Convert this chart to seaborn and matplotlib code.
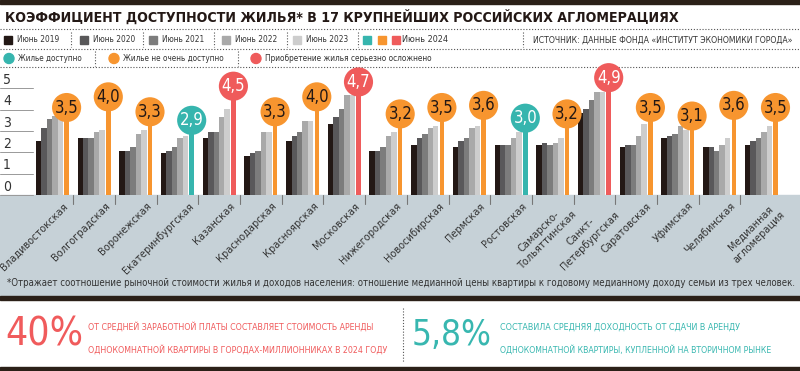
import pandas as pd
import seaborn as sns
import matplotlib.pyplot as plt
from matplotlib.patches import Rectangle, Circle
from matplotlib.transforms import blended_transform_factory

# данные
cities = ["Владивостокская", "Волгоградская", "Воронежская", "Екатеринбургская", "Казанская",
          "Краснодарская", "Красноярская", "Московская", "Нижегородская", "Новосибирская",
          "Пермская", "Ростовская", "Самарско-\nТольяттинская", "Санкт-\nПетербургская",
          "Саратовская", "Уфимская", "Челябинская", "Медианная\nагломерация"]
years = ["Июнь 2019", "Июнь 2020", "Июнь 2021", "Июнь 2022", "Июнь 2023"]
v2019 = [2.55, 2.65, 2.05, 1.95, 2.65, 1.85, 2.55, 3.35, 2.05, 2.35, 2.25, 2.35, 2.35, 3.85, 2.25, 2.65, 2.25, 2.35]
v2020 = [3.15, 2.65, 2.05, 2.05, 2.95, 1.95, 2.75, 3.65, 2.05, 2.65, 2.55, 2.35, 2.45, 4.05, 2.35, 2.75, 2.25, 2.55]
v2021 = [3.55, 2.65, 2.25, 2.25, 2.95, 2.05, 2.95, 4.05, 2.25, 2.85, 2.65, 2.35, 2.35, 4.45, 2.35, 2.85, 2.05, 2.65]
v2022 = [3.70, 2.95, 2.85, 2.65, 3.65, 2.95, 3.45, 4.70, 2.75, 3.15, 3.15, 2.65, 2.45, 4.85, 2.75, 3.25, 2.35, 2.95]
v2023 = [3.60, 3.05, 3.05, 2.75, 4.05, 2.95, 3.45, 4.70, 2.95, 3.25, 3.25, 2.95, 2.65, 4.85, 3.35, 3.05, 2.65, 3.25]
v2024 = [3.5, 4.0, 3.3, 2.9, 4.5, 3.3, 4.0, 4.7, 3.2, 3.5, 3.6, 3.0, 3.2, 4.9, 3.5, 3.1, 3.6, 3.5]
status = ["mid", "mid", "mid", "ok", "hard", "mid", "mid", "hard", "mid", "mid",
          "mid", "ok", "mid", "hard", "mid", "mid", "mid", "mid"]
status_labels = {"ok": "Жилье доступно", "mid": "Жилье не очень доступно",
                 "hard": "Приобретение жилья серьезно осложнено"}

greys = ["#231815", "#59585a", "#7c7c7c", "#a9a9a9", "#cdcdcd"]
scol = {"ok": "#36b5ae", "mid": "#f7952f", "hard": "#ef5b5b"}
dark = "#2b2018"
txt = "#333333"

df = pd.DataFrame({"city": cities * 5,
                   "year": [y for y in years for _ in cities],
                   "value": v2019 + v2020 + v2021 + v2022 + v2023})

sns.set_theme(style="white")
plt.rcParams["font.family"] = ["DejaVu Sans"]
plt.rcParams["font.stretch"] = "condensed"

W, H = 800, 371
fig = plt.figure(figsize=(8, 3.71), dpi=100)
rend = fig.canvas.get_renderer()
bg = fig.add_axes([0, 0, 1, 1])
bg.set_xlim(0, W)
bg.set_ylim(H, 0)
bg.axis("off")


def fit(t, w):
    # подогнать размер шрифта под ширину в пикселях
    bb = t.get_window_extent(rend)
    t.set_fontsize(t.get_fontsize() * w / bb.width)
    return t


# полосы
bg.add_patch(Rectangle((0, 0), W, 3.5, color=dark))
bg.add_patch(Rectangle((0, 195), W, 101, color="#c6d1d7"))
bg.add_patch(Rectangle((0, 296), W, 4, color=dark))
bg.add_patch(Rectangle((0, 367), W, 4, color=dark))

fit(bg.text(5, 17, "КОЭФФИЦИЕНТ ДОСТУПНОСТИ ЖИЛЬЯ* В 17 КРУПНЕЙШИХ РОССИЙСКИХ АГЛОМЕРАЦИЯХ",
            fontsize=12, fontweight="bold", color="#231815", va="center"), 678)

dots = (0, (1, 1.6))
for yy in (29, 49, 67):
    bg.plot([0, W], [yy, yy], ls=dots, color="#555", lw=0.8)

# легенда, строка 1
sq = [4, 80, 149, 222, 293]
for x0, c, lab in zip(sq, greys, years):
    bg.add_patch(Rectangle((x0, 36), 8, 8, color=c))
    fit(bg.text(x0 + 13, 40, lab, fontsize=7, color=txt, va="center"), 42)
for i, k in enumerate(["ok", "mid", "hard"]):
    bg.add_patch(Rectangle((363 + i * 14.5, 36), 8, 8, color=scol[k]))
fit(bg.text(402, 40, "Июнь 2024", fontsize=7, color=txt, va="center"), 46)
for xs in (71, 143, 214, 287, 358, 523):
    bg.plot([xs, xs], [32, 47], ls=dots, color="#555", lw=0.8)
fit(bg.text(533, 40, "ИСТОЧНИК: ДАННЫЕ ФОНДА «ИНСТИТУТ ЭКОНОМИКИ ГОРОДА»",
            fontsize=7, color=txt, va="center"), 264)

# легенда, строка 2
for xc, k, w in zip((9, 114, 256), ("ok", "mid", "hard"), (64, 100, 168)):
    bg.add_patch(Circle((xc, 58.5), 5, color=scol[k]))
    fit(bg.text(xc + 9, 58.5, status_labels[k], fontsize=7, color=txt, va="center"), w)
for xs in (95, 238):
    bg.plot([xs, xs], [51, 66], ls=dots, color="#555", lw=0.8)

# график
ax = fig.add_axes([0, 1 - 195 / H, 1, 128 / H])
ax.patch.set_alpha(0)
sns.barplot(data=df, x="city", y="value", hue="year", palette=greys, width=0.655,
            saturation=1, linewidth=0, legend=False, ax=ax)
x = list(range(len(cities)))
cols = [scol[s] for s in status]
xs24 = [i + 0.41 for i in x]
tops = [v + 0.6 for v in v2024]
ax.bar(xs24, tops, width=0.11, color=cols, linewidth=0)
ax.scatter(xs24, tops, s=440, color=cols, zorder=5, clip_on=False, linewidths=0)
for xi, t, v, s in zip(xs24, tops, v2024, status):
    ax.text(xi, t, f"{v:.1f}".replace(".", ","), ha="center", va="center", zorder=6,
            fontsize=12, color="white" if s != "mid" else "#231815")
ax.set_xlim(-49.5 / 41.7, (W - 49.5) / 41.7)
ax.set_ylim(0, 6.0)
ax.axis("off")

tr = blended_transform_factory(ax.transAxes, ax.transData)
for t in range(6):
    ax.plot([0, 33 / W], [t, t], transform=tr, color="#999", lw=0.7, clip_on=False)
    ax.text(3 / W, t + 0.06, str(t), transform=tr, fontsize=10, color=txt, va="bottom")

for i in x[:-1]:
    ax.plot([i + 0.57, i + 0.57], [0, -0.4], color="#777", lw=0.8, clip_on=False)
for i, c in zip(x, cities):
    ax.text(i + 0.32, -0.28, c, rotation=45, rotation_mode="anchor", ha="right", va="top",
            fontsize=7.8, color=txt, multialignment="center")

fit(bg.text(7, 283, "*Отражает соотношение рыночной стоимости жилья и доходов населения: отношение "
            "медианной цены квартиры к годовому медианному доходу семьи из трех человек.",
            fontsize=7, color=txt, va="center"), 783)

# нижний блок
red, teal = "#f05b5c", "#38b7b0"
fit(bg.text(5, 335, "40%", fontsize=30, color=red, va="center"), 78)
fit(bg.text(88, 327, "ОТ СРЕДНЕЙ ЗАРАБОТНОЙ ПЛАТЫ СОСТАВЛЯЕТ СТОИМОСТЬ АРЕНДЫ",
            fontsize=7, color=red, va="center"), 290)
fit(bg.text(88, 350, "ОДНОКОМНАТНОЙ КВАРТИРЫ В ГОРОДАХ-МИЛЛИОННИКАХ В 2024 ГОДУ",
            fontsize=7, color=red, va="center"), 300)
bg.plot([403, 403], [308, 362], ls=dots, color="#555", lw=0.8)
fit(bg.text(412, 335, "5,8%", fontsize=30, color=teal, va="center"), 80)
fit(bg.text(500, 327, "СОСТАВИЛА СРЕДНЯЯ ДОХОДНОСТЬ ОТ СДАЧИ В АРЕНДУ",
            fontsize=7, color=teal, va="center"), 240)
fit(bg.text(500, 350, "ОДНОКОМНАТНОЙ КВАРТИРЫ, КУПЛЕННОЙ НА ВТОРИЧНОМ РЫНКЕ",
            fontsize=7, color=teal, va="center"), 276)

fig.savefig("out.png", dpi=100)
